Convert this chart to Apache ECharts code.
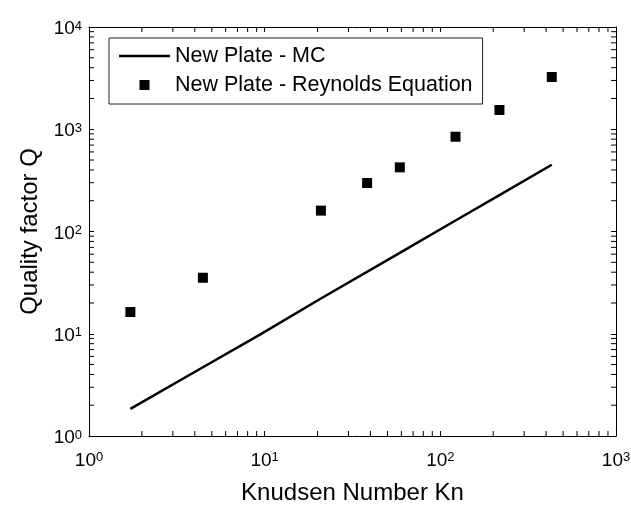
<!DOCTYPE html>
<html>
<head>
<meta charset="utf-8">
<script src="https://cdn.jsdelivr.net/npm/echarts@6/dist/echarts.min.js"></script>
<style>
  html, body { margin: 0; padding: 0; background: #fff; }
</style>
</head>
<body>
<div id="chart" style="width:631px;height:505px"></div>
<script>
// data
var knMC = [1.72, 4.45, 9.4, 20.9, 58.8, 122, 217, 431]
var qMC = [1.84, 4.7, 9.8, 22.1, 61.8, 128, 227, 450]
var knRey = [1.72, 4.45, 20.9, 38.3, 58.8, 122, 217, 431]
var qRey = [16.3, 35.3, 160, 298, 424, 845, 1543, 3244]
var xMinor = [2, 3, 4, 5, 6, 7, 8, 9, 20, 30, 40, 50, 60, 70, 80, 90, 200, 300, 400, 500, 600, 700, 800, 900]
var yMinor = [2, 3, 4, 5, 6, 7, 8, 9, 20, 30, 40, 50, 60, 70, 80, 90, 200, 300, 400, 500, 600, 700, 800, 900,
  2000, 3000, 4000, 5000, 6000, 7000, 8000, 9000]

var FONT = '"Liberation Sans", Arial, Helvetica, sans-serif'

var mcData = knMC.map(function (k, i) { return [k, qMC[i]] })
var reyData = knRey.map(function (k, i) { return [k, qRey[i]] })

// 10^n labels with a raised exponent
function powLabel (v) {
  var e = Math.round(Math.log(v) / Math.LN10)
  return '{b|10}{s|' + e + '}'
}

var richLabel = {
  b: { fontSize: 19, lineHeight: 19, verticalAlign: 'bottom', fontFamily: FONT, color: '#000' },
  s: { fontSize: 13, lineHeight: 13, verticalAlign: 'top', padding: [0, 0, 12, 0], fontFamily: FONT, color: '#000' }
}

var chart = echarts.init(document.getElementById('chart'))

var option = {
  animation: false,
  backgroundColor: '#fff',
  textStyle: { fontFamily: FONT },
  grid: { left: 89, right: 15, top: 27, bottom: 69, containLabel: false, outerBoundsMode: 'none' },
  legend: {
    left: 109,
    top: 38,
    orient: 'vertical',
    backgroundColor: '#fff',
    borderColor: '#222',
    borderWidth: 1,
    borderRadius: 0,
    padding: [7, 10, 8, 10],
    itemWidth: 51,
    itemHeight: 10,
    itemGap: 7,
    itemTextGap: 3,
    symbolKeepAspect: true,
    textStyle: { fontSize: 21.5, lineHeight: 22, color: '#000', fontFamily: FONT },
    data: [
      { name: 'New Plate - MC', icon: 'path://M0,0H51V2.5H0Z' },
      { name: 'New Plate - Reynolds Equation', icon: 'path://M0,0H10V10H0Z' }
    ]
  },
  xAxis: [
    {
      type: 'log', logBase: 10, min: 1, max: 1000,
      name: 'Knudsen Number Kn', nameLocation: 'middle', nameGap: 40,
      nameTextStyle: { fontSize: 24, color: '#000', fontFamily: FONT },
      axisLine: { lineStyle: { color: '#000', width: 1 } },
      axisTick: { inside: true, length: 5, lineStyle: { color: '#000' } },
      axisLabel: { margin: 15, formatter: powLabel, rich: richLabel, showMaxLabel: true, showMinLabel: true },
      splitLine: { show: false }
    },
    {
      type: 'log', logBase: 10, min: 1, max: 1000, position: 'top',
      axisLine: { lineStyle: { color: '#000', width: 1 } },
      axisTick: { inside: true, length: 5, lineStyle: { color: '#000' } },
      axisLabel: { show: false },
      splitLine: { show: false }
    }
  ],
  yAxis: [
    {
      type: 'log', logBase: 10, min: 1, max: 10000,
      name: 'Quality factor Q', nameLocation: 'middle', nameGap: 46,
      nameTextStyle: { fontSize: 24, color: '#000', fontFamily: FONT },
      axisLine: { lineStyle: { color: '#000', width: 1 } },
      axisTick: { inside: true, length: 5, lineStyle: { color: '#000' } },
      axisLabel: { margin: 7, formatter: powLabel, rich: richLabel, padding: [4, 0, 0, 0] },
      splitLine: { show: false }
    },
    {
      type: 'log', logBase: 10, min: 1, max: 10000, position: 'right',
      axisLine: { lineStyle: { color: '#000', width: 1 } },
      axisTick: { inside: true, length: 5, lineStyle: { color: '#000' } },
      axisLabel: { show: false },
      splitLine: { show: false }
    }
  ],
  series: [
    {
      // minor ticks along bottom and top
      type: 'custom',
      silent: true,
      xAxisIndex: 0, yAxisIndex: 0,
      data: xMinor.map(function (v) { return [v, 1] }),
      renderItem: function (params, api) {
        var b = api.coord([api.value(0), 1])
        var t = api.coord([api.value(0), 10000])
        var st = { stroke: '#000', lineWidth: 1 }
        return {
          type: 'group',
          children: [
            { type: 'line', shape: { x1: b[0], y1: b[1], x2: b[0], y2: b[1] - 5 }, style: st },
            { type: 'line', shape: { x1: t[0], y1: t[1], x2: t[0], y2: t[1] + 5 }, style: st }
          ]
        }
      }
    },
    {
      // minor ticks along left and right
      type: 'custom',
      silent: true,
      xAxisIndex: 0, yAxisIndex: 0,
      data: yMinor.map(function (v) { return [1, v] }),
      renderItem: function (params, api) {
        var l = api.coord([1, api.value(1)])
        var r = api.coord([1000, api.value(1)])
        var st = { stroke: '#000', lineWidth: 1 }
        return {
          type: 'group',
          children: [
            { type: 'line', shape: { x1: l[0], y1: l[1], x2: l[0] + 5, y2: l[1] }, style: st },
            { type: 'line', shape: { x1: r[0], y1: r[1], x2: r[0] - 5, y2: r[1] }, style: st }
          ]
        }
      }
    },
    {
      name: 'New Plate - MC',
      type: 'line',
      data: mcData,
      symbol: 'none',
      color: '#000',
      lineStyle: { color: '#000', width: 2.5 }
    },
    {
      name: 'New Plate - Reynolds Equation',
      type: 'scatter',
      data: reyData,
      symbol: 'rect',
      symbolSize: 10,
      color: '#000',
      itemStyle: { color: '#000', opacity: 1 }
    }
  ]
}

chart.setOption(option)
</script>
</body>
</html>
